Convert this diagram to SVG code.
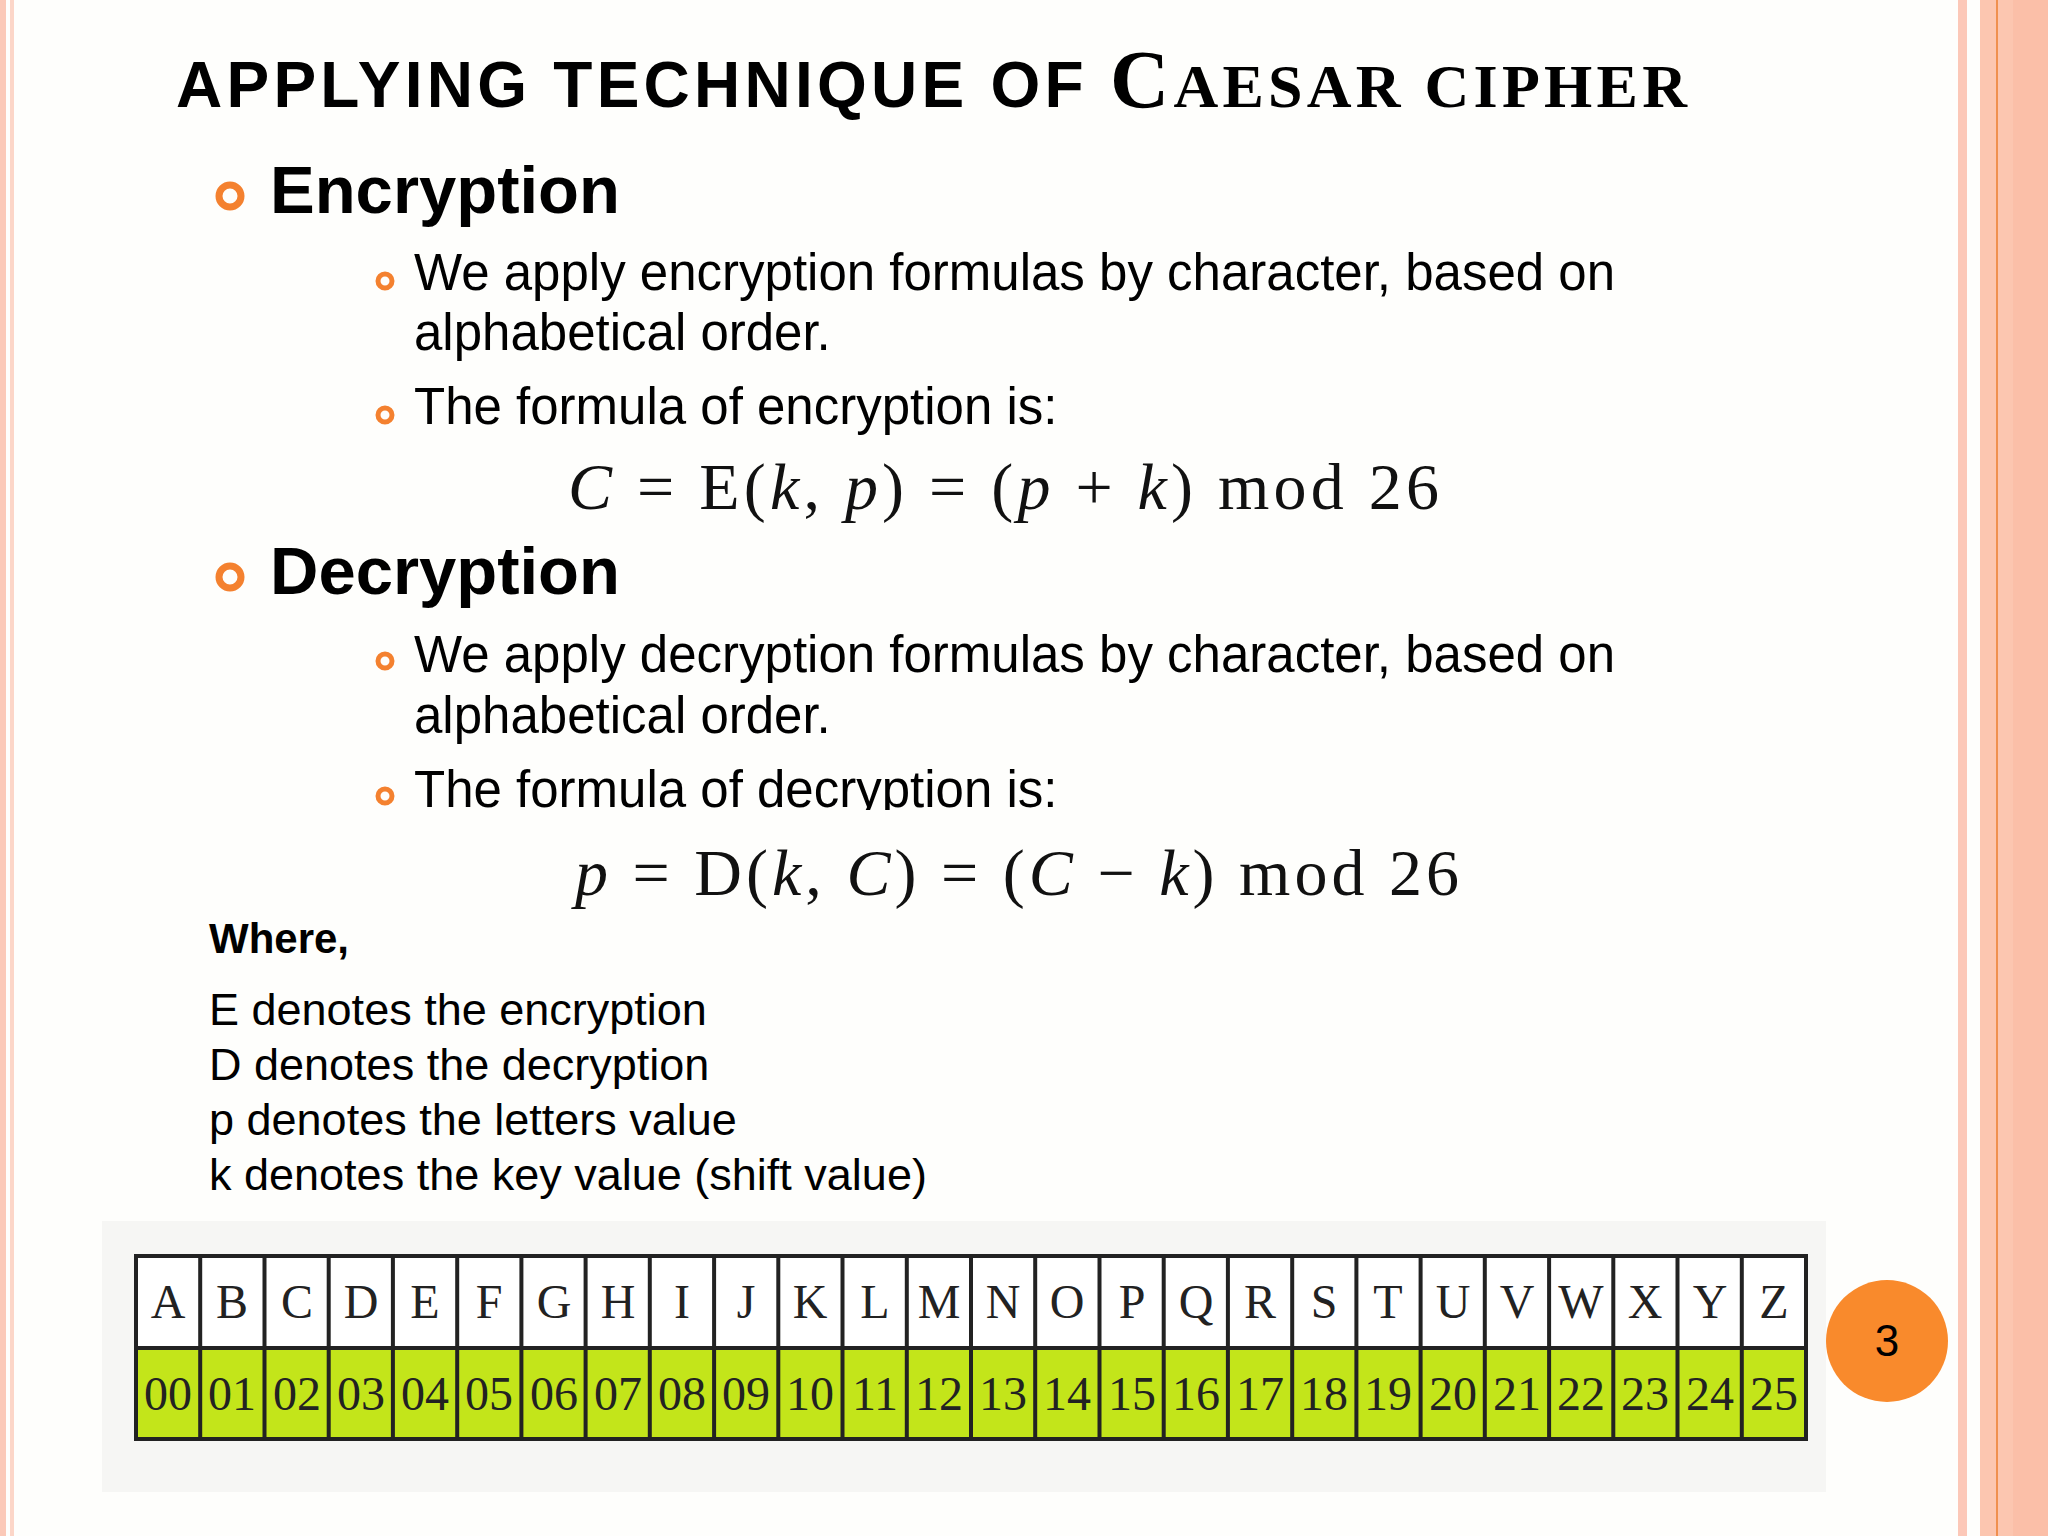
<svg xmlns="http://www.w3.org/2000/svg" width="2048" height="1536" viewBox="0 0 2048 1536">
<style>
.s{font-family:"Liberation Sans",Arial,sans-serif;fill:#000}
.m{font-family:"Liberation Serif","Times New Roman",serif;fill:#111;font-size:66px}
.b{fill:none;stroke:#f4812f}
.t{font-family:"Liberation Serif",serif;font-size:48px;fill:#222;text-anchor:middle}
</style>
<rect width="2048" height="1536" fill="#fefefc"/>
<rect x="0" y="0" width="6" height="1536" fill="#fbc9b8"/>
<rect x="10" y="0" width="4" height="1536" fill="#fcd6c8"/>
<rect x="1958" y="0" width="9" height="1536" fill="#fcc8b8"/>
<rect x="1980" y="0" width="68" height="1536" fill="#fcc6b0"/>
<rect x="2013" y="0" width="35" height="1536" fill="#fbbfa8"/>
<rect x="1996" y="0" width="2" height="1536" fill="#f0904f"/>
<g id="title">
<text x="176" y="107" class="s" font-weight="bold" font-size="64" textLength="1511" lengthAdjust="spacing">APPLYING  TECHNIQUE OF <tspan font-family="Liberation Serif,serif" font-size="82">C</tspan><tspan font-family="Liberation Serif,serif" font-size="62">AESAR CIPHER</tspan></text>
</g>
<g id="enc">
<circle cx="230" cy="196" r="11" class="b" stroke-width="7"/>
<text x="270" y="213" class="s" font-weight="bold" font-size="67">Encryption</text>
<circle cx="385" cy="281" r="7" class="b" stroke-width="5"/>
<text x="414" y="290" class="s" font-size="51">We apply encryption formulas by character, based on</text>
<text x="414" y="350" class="s" font-size="51">alphabetical order.</text>
<circle cx="385" cy="415" r="7" class="b" stroke-width="5"/>
<text x="414" y="424" class="s" font-size="51">The formula of encryption is:</text>
<text x="568" y="509" class="m" textLength="871" lengthAdjust="spacing"><tspan font-style="italic">C</tspan> = E(<tspan font-style="italic">k</tspan>, <tspan font-style="italic">p</tspan>) = (<tspan font-style="italic">p</tspan> + <tspan font-style="italic">k</tspan>) mod 26</text>
</g>
<g id="dec">
<circle cx="230" cy="577" r="11" class="b" stroke-width="7"/>
<text x="270" y="594" class="s" font-weight="bold" font-size="67">Decryption</text>
<circle cx="385" cy="661" r="7" class="b" stroke-width="5"/>
<text x="414" y="672" class="s" font-size="51">We apply decryption formulas by character, based on</text>
<text x="414" y="733" class="s" font-size="51">alphabetical order.</text>
<circle cx="385" cy="796" r="7" class="b" stroke-width="5"/>
<text x="414" y="807" class="s" font-size="51">The formula of decryption is:</text>
<rect x="400" y="810" width="1200" height="110" fill="#fefefc"/>
<text x="575" y="895" class="m" textLength="884" lengthAdjust="spacing"><tspan font-style="italic">p</tspan> = D(<tspan font-style="italic">k</tspan>, <tspan font-style="italic">C</tspan>) = (<tspan font-style="italic">C</tspan> − <tspan font-style="italic">k</tspan>) mod 26</text>
</g>
<g id="where">
<text x="209" y="953" class="s" font-weight="bold" font-size="42">Where,</text>
<text x="209" y="1025" class="s" font-size="45">E denotes the encryption</text>
<text x="209" y="1080" class="s" font-size="45">D denotes the decryption</text>
<text x="209" y="1135" class="s" font-size="45">p denotes the letters value</text>
<text x="209" y="1190" class="s" font-size="45">k denotes the key value (shift value)</text>
</g>
<g id="table">
<rect x="102" y="1221" width="1724" height="271" fill="#f6f6f4"/>
<rect x="136" y="1256" width="1670" height="92" fill="#fff"/>
<rect x="136" y="1348" width="1670" height="91" fill="#c3e51a"/>
<g stroke="#222" stroke-width="4" fill="none">
<rect x="136" y="1256" width="1670" height="183"/>
<line x1="136" y1="1348" x2="1806" y2="1348"/>
<path d="M200.2 1256V1439M264.5 1256V1439M328.7 1256V1439M392.9 1256V1439M457.2 1256V1439M521.4 1256V1439M585.6 1256V1439M649.8 1256V1439M714.1 1256V1439M778.3 1256V1439M842.5 1256V1439M906.8 1256V1439M971 1256V1439M1035.2 1256V1439M1099.5 1256V1439M1163.7 1256V1439M1227.9 1256V1439M1292.2 1256V1439M1356.4 1256V1439M1420.6 1256V1439M1484.8 1256V1439M1549.1 1256V1439M1613.3 1256V1439M1677.5 1256V1439M1741.8 1256V1439"/>
</g>
<g>
<text x="168" y="1318" class="t">A</text><text x="232" y="1318" class="t">B</text><text x="297" y="1318" class="t">C</text><text x="361" y="1318" class="t">D</text><text x="425" y="1318" class="t">E</text><text x="489" y="1318" class="t">F</text><text x="554" y="1318" class="t">G</text><text x="618" y="1318" class="t">H</text><text x="682" y="1318" class="t">I</text><text x="746" y="1318" class="t">J</text><text x="810" y="1318" class="t">K</text><text x="875" y="1318" class="t">L</text><text x="939" y="1318" class="t">M</text><text x="1003" y="1318" class="t">N</text><text x="1067" y="1318" class="t">O</text><text x="1132" y="1318" class="t">P</text><text x="1196" y="1318" class="t">Q</text><text x="1260" y="1318" class="t">R</text><text x="1324" y="1318" class="t">S</text><text x="1388" y="1318" class="t">T</text><text x="1453" y="1318" class="t">U</text><text x="1517" y="1318" class="t">V</text><text x="1581" y="1318" class="t">W</text><text x="1645" y="1318" class="t">X</text><text x="1710" y="1318" class="t">Y</text><text x="1774" y="1318" class="t">Z</text>
</g>
<g>
<text x="168" y="1410" class="t">00</text><text x="232" y="1410" class="t">01</text><text x="297" y="1410" class="t">02</text><text x="361" y="1410" class="t">03</text><text x="425" y="1410" class="t">04</text><text x="489" y="1410" class="t">05</text><text x="554" y="1410" class="t">06</text><text x="618" y="1410" class="t">07</text><text x="682" y="1410" class="t">08</text><text x="746" y="1410" class="t">09</text><text x="810" y="1410" class="t">10</text><text x="875" y="1410" class="t">11</text><text x="939" y="1410" class="t">12</text><text x="1003" y="1410" class="t">13</text><text x="1067" y="1410" class="t">14</text><text x="1132" y="1410" class="t">15</text><text x="1196" y="1410" class="t">16</text><text x="1260" y="1410" class="t">17</text><text x="1324" y="1410" class="t">18</text><text x="1388" y="1410" class="t">19</text><text x="1453" y="1410" class="t">20</text><text x="1517" y="1410" class="t">21</text><text x="1581" y="1410" class="t">22</text><text x="1645" y="1410" class="t">23</text><text x="1710" y="1410" class="t">24</text><text x="1774" y="1410" class="t">25</text>
</g>
</g>
<g id="page">
<circle cx="1887" cy="1341" r="61" fill="#f98a2c"/>
<text x="1887" y="1356" class="s" font-size="44" text-anchor="middle">3</text>
</g>
</svg>
